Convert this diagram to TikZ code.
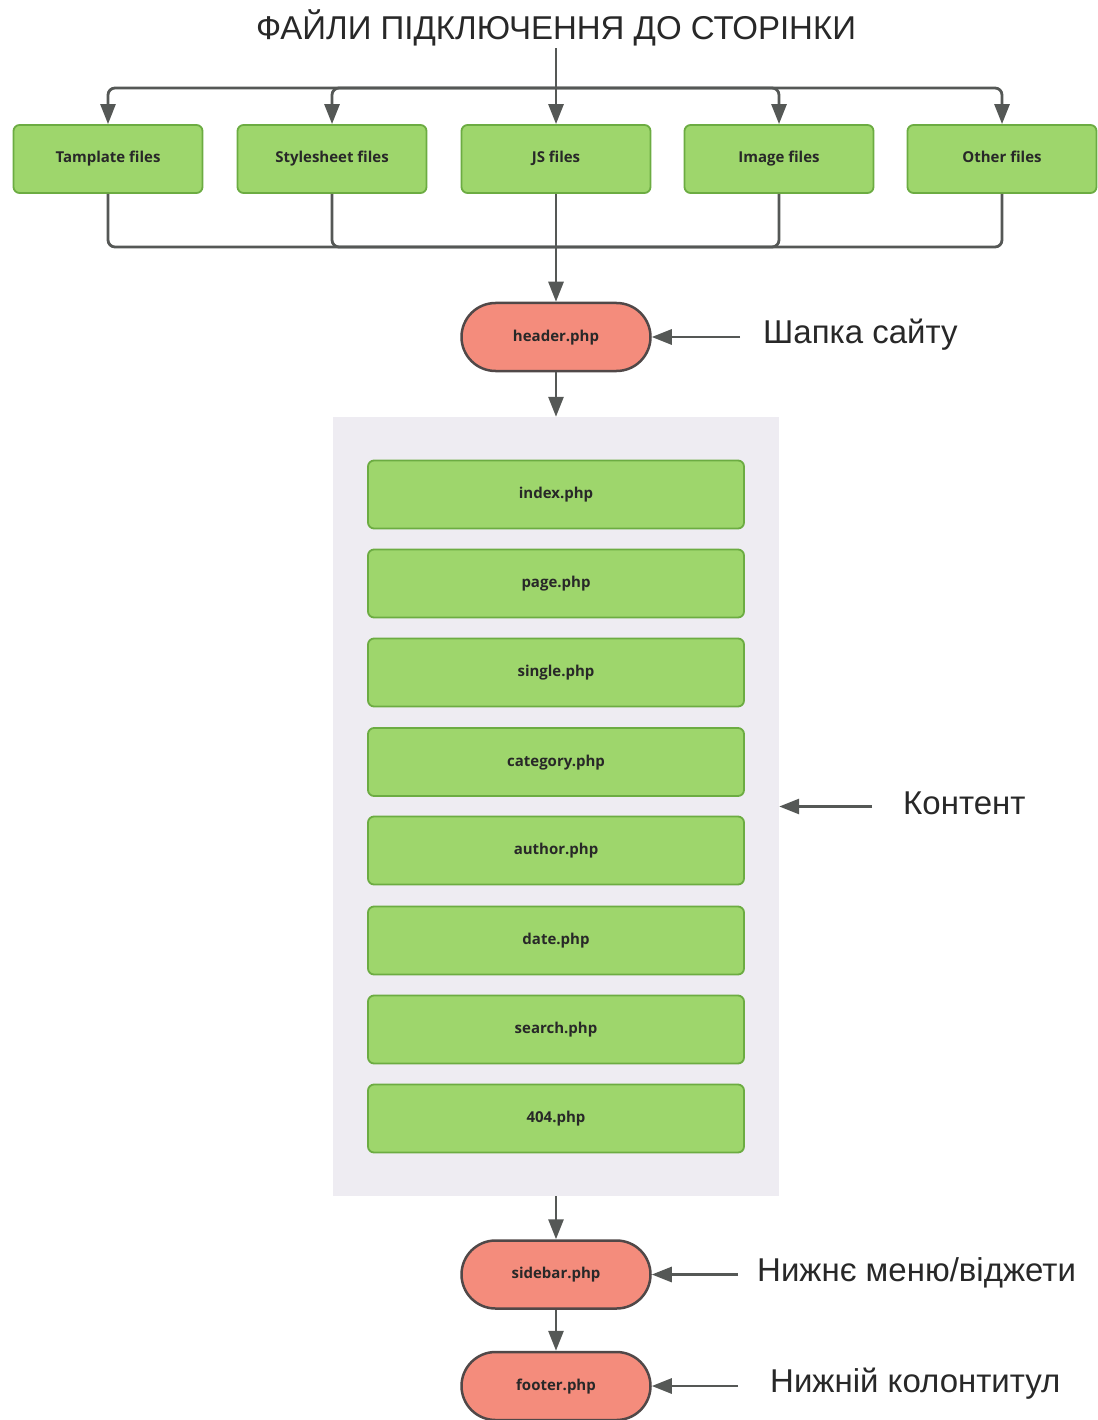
\documentclass[tikz,border=0pt]{standalone}
\usepackage{fontspec}
\setmainfont{Liberation Sans}
\newfontfamily\boxfont{Open Sans}
\usetikzlibrary{arrows.meta}
\definecolor{gfill}{RGB}{158,214,108}
\definecolor{gdraw}{RGB}{108,172,66}
\definecolor{rfill}{RGB}{244,140,124}
\definecolor{rdraw}{RGB}{80,72,72}
\definecolor{cont}{RGB}{238,236,242}
\definecolor{ln}{RGB}{85,88,86}
\definecolor{txt}{RGB}{40,40,40}
\tikzset{
  gbox/.style={draw=gdraw, line width=1.8pt, fill=gfill, rounded corners=6pt, minimum height=68pt, inner sep=0pt, text height=11pt, text depth=3pt, font=\boxfont\bfseries\fontsize{15}{17}\selectfont, text=txt},
  topbox/.style={gbox, minimum width=189pt},
  pagebox/.style={gbox, minimum width=376pt},
  pill/.style={draw=rdraw, line width=2.5pt, fill=rfill, rounded corners=34pt, minimum width=189pt, minimum height=68pt, inner sep=0pt, text height=11pt, text depth=3pt, font=\boxfont\bfseries\fontsize{15}{17}\selectfont, text=txt},
  conn/.style={draw=ln, line width=2.8pt, rounded corners=7pt},
  arr/.style={conn, -{Triangle[length=20pt,width=15pt]}},
  lbl/.style={font=\fontsize{33}{37}\selectfont, text=txt, anchor=west, inner sep=0pt},
}
\begin{document}
\begin{tikzpicture}[x=1pt,y=-1pt]
\useasboundingbox (0,0) rectangle (1097,1420);
% title
\node[font=\fontsize{33}{37}\selectfont, text=txt, inner sep=2pt] (title) at (556,28) {ФАЙЛИ ПІДКЛЮЧЕННЯ ДО СТОРІНКИ};
\coordinate (busT) at (556,88);
\coordinate (busB) at (556,247);
% top boxes
\node[topbox] (t1) at (108,159) {Tamplate files};
\node[topbox] (t2) at (332,159) {Stylesheet files};
\node[topbox] (t3) at (556,159) {JS files};
\node[topbox] (t4) at (779,159) {Image files};
\node[topbox] (t5) at (1002,159) {Other files};
\draw[conn] (title.south) -- (busT);
\foreach \t in {t1,t2,t3,t4,t5}{
  \draw[arr] (busT) -| (\t.north);
  \draw[conn] (\t.south) |- (busB);
}
% header
\node[pill] (header) at (556,337) {header.php};
\draw[arr] (busB) -- (header.north);
\node[lbl] (lhead) at (763,335) {Шапка сайту};
\coordinate (lheadA) at (740,337);
\draw[arr] (lheadA) -- (header.east);
% content container
\node[fill=cont, minimum width=446pt, minimum height=779pt, inner sep=0pt] (content) at (556,806.5) {};
\draw[arr] (header.south) -- (content.north);
\node[pagebox] (p1) at (556,494.5) {index.php};
\node[pagebox] (p2) at (556,583.5) {page.php};
\node[pagebox] (p3) at (556,672.5) {single.php};
\node[pagebox] (p4) at (556,762) {category.php};
\node[pagebox] (p5) at (556,850.5) {author.php};
\node[pagebox] (p6) at (556,940.5) {date.php};
\node[pagebox] (p7) at (556,1029.5) {search.php};
\node[pagebox] (p8) at (556,1118.5) {404.php};
\node[lbl] (lcont) at (903,803) {Контент};
\coordinate (lcontA) at (872,806.5);
\draw[arr] (lcontA) -- (content.east);
% sidebar, footer
\node[pill] (sidebar) at (556,1274.5) {sidebar.php};
\draw[arr] (content.south) -- (sidebar.north);
\node[lbl] (lside) at (757,1273) {Нижнє меню/віджети};
\coordinate (lsideA) at (738,1274.5);
\draw[arr] (lsideA) -- (sidebar.east);
\node[pill] (footer) at (556,1386) {footer.php};
\draw[arr] (sidebar.south) -- (footer.north);
\node[lbl] (lfoot) at (770,1384) {Нижній колонтитул};
\coordinate (lfootA) at (738,1386);
\draw[arr] (lfootA) -- (footer.east);
\end{tikzpicture}
\end{document}
